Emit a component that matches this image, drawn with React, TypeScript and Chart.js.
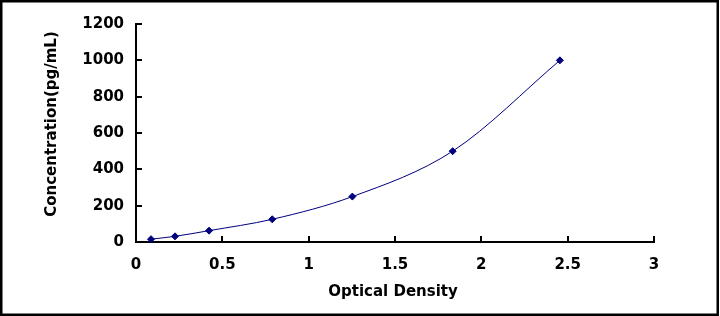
import React, { useEffect, useRef } from "react";
import { Chart, registerables } from "chart.js";

Chart.register(...registerables);

// ---- data ----
const opticalDensity = [0.087, 0.226, 0.423, 0.789, 1.253, 1.834, 2.455];
const concentration = [15.6, 31.2, 62.5, 125, 250, 500, 1000];
const xTickValues = [0, 0.5, 1, 1.5, 2, 2.5, 3];
const xTickLabels = ["0", "0.5", "1", "1.5", "2", "2.5", "3"];
const yTickValues = [0, 200, 400, 600, 800, 1000, 1200];
const yTickLabels = ["0", "200", "400", "600", "800", "1000", "1200"];
const xTitle = "Optical Density";
const yTitle = "Concentration(pg/mL)";

const FONT_FAMILY = "'DejaVu Sans', sans-serif";
const LINE_COLOR = "#000080";

const decorPlugin = {
  id: "decor",
  beforeDraw(chart: any) {
    const ctx = chart.ctx;
    ctx.save();
    ctx.fillStyle = "#ffffff";
    ctx.fillRect(0, 0, chart.width, chart.height);
    ctx.restore();
  },
  afterDraw(chart: any) {
    const { ctx, chartArea, scales } = chart;
    ctx.save();
    ctx.strokeStyle = "#000";
    ctx.lineWidth = 2;
    // inward tick marks on y axis
    for (const v of yTickValues) {
      if (v === 0) continue;
      const y = Math.round(scales.y.getPixelForValue(v));
      ctx.beginPath();
      ctx.moveTo(chartArea.left, y);
      ctx.lineTo(chartArea.left + 6, y);
      ctx.stroke();
    }
    // inward tick marks on x axis
    for (const v of xTickValues) {
      if (v === 0) continue;
      const x = Math.round(scales.x.getPixelForValue(v));
      ctx.beginPath();
      ctx.moveTo(x, chartArea.bottom);
      ctx.lineTo(x, chartArea.bottom - 6);
      ctx.stroke();
    }
    // axis titles
    ctx.fillStyle = "#000";
    ctx.font = `bold 15px ${FONT_FAMILY}`;
    ctx.textAlign = "center";
    ctx.textBaseline = "alphabetic";
    ctx.fillText(xTitle, (chartArea.left + chartArea.right) / 2 - 2, chartArea.bottom + 54);
    ctx.save();
    ctx.translate(56, (chartArea.top + chartArea.bottom) / 2 - 9);
    ctx.rotate(-Math.PI / 2);
    ctx.fillText(yTitle, 0, 0);
    ctx.restore();
    // outer frame
    ctx.fillStyle = "#000";
    const h = chart.height;
    ctx.fillRect(0, 0, 719, 2.5);
    ctx.fillRect(0, h - 2.5, 719, 2.5);
    ctx.fillRect(0, 0, 2.5, h);
    ctx.fillRect(716.5, 0, 2.5, h);
    ctx.restore();
  },
};

export default function App() {
  const canvasRef = useRef<HTMLCanvasElement | null>(null);

  useEffect(() => {
    const canvas = canvasRef.current;
    if (!canvas) return;
    const chart = new Chart(canvas, {
      type: "scatter",
      data: {
        datasets: [
          {
            data: opticalDensity.map((x, i) => ({ x, y: concentration[i] })),
            showLine: true,
            borderColor: LINE_COLOR,
            borderWidth: 1,
            cubicInterpolationMode: "monotone",
            pointStyle: "rectRot",
            pointRadius: 3.5,
            pointBackgroundColor: LINE_COLOR,
            pointBorderColor: LINE_COLOR,
            pointBorderWidth: 1,
            clip: false,
          } as any,
        ],
      },
      options: {
        animation: false,
        responsive: false,
        maintainAspectRatio: false,
        devicePixelRatio: 1,
        layout: { padding: { left: 0, top: 24, right: 66, bottom: 0 } },
        plugins: {
          legend: { display: false },
          tooltip: { enabled: false },
          title: { display: false },
        },
        scales: {
          x: {
            type: "linear",
            min: 0,
            max: 3,
            afterBuildTicks: (scale: any) => {
              scale.ticks = xTickValues.map((v) => ({ value: v }));
            },
            afterFit: (scale: any) => {
              scale.height = 74;
            },
            grid: { display: false, drawTicks: false },
            border: { display: true, color: "#000", width: 2 },
            ticks: {
              color: "#000",
              font: { family: FONT_FAMILY, size: 15, weight: "bold" },
              padding: 14,
              maxRotation: 0,
              autoSkip: false,
              callback: (_v: any, i: number) => xTickLabels[i],
            },
          },
          y: {
            type: "linear",
            min: 0,
            max: 1200,
            afterBuildTicks: (scale: any) => {
              scale.ticks = yTickValues.map((v) => ({ value: v }));
            },
            afterFit: (scale: any) => {
              scale.width = 136;
            },
            grid: { display: false, drawTicks: false },
            border: { display: true, color: "#000", width: 2 },
            ticks: {
              color: "#000",
              font: { family: FONT_FAMILY, size: 15, weight: "bold" },
              padding: 12,
              autoSkip: false,
              callback: (_v: any, i: number) => yTickLabels[i],
            },
          },
        },
      },
      plugins: [decorPlugin],
    });
    return () => chart.destroy();
  }, []);

  return (
    <div style={{ position: "fixed", left: 0, top: 0, width: 720, height: 316, background: "#fff" }}>
      <canvas ref={canvasRef} width={720} height={316} style={{ display: "block", width: 720, height: 316 }} />
    </div>
  );
}
